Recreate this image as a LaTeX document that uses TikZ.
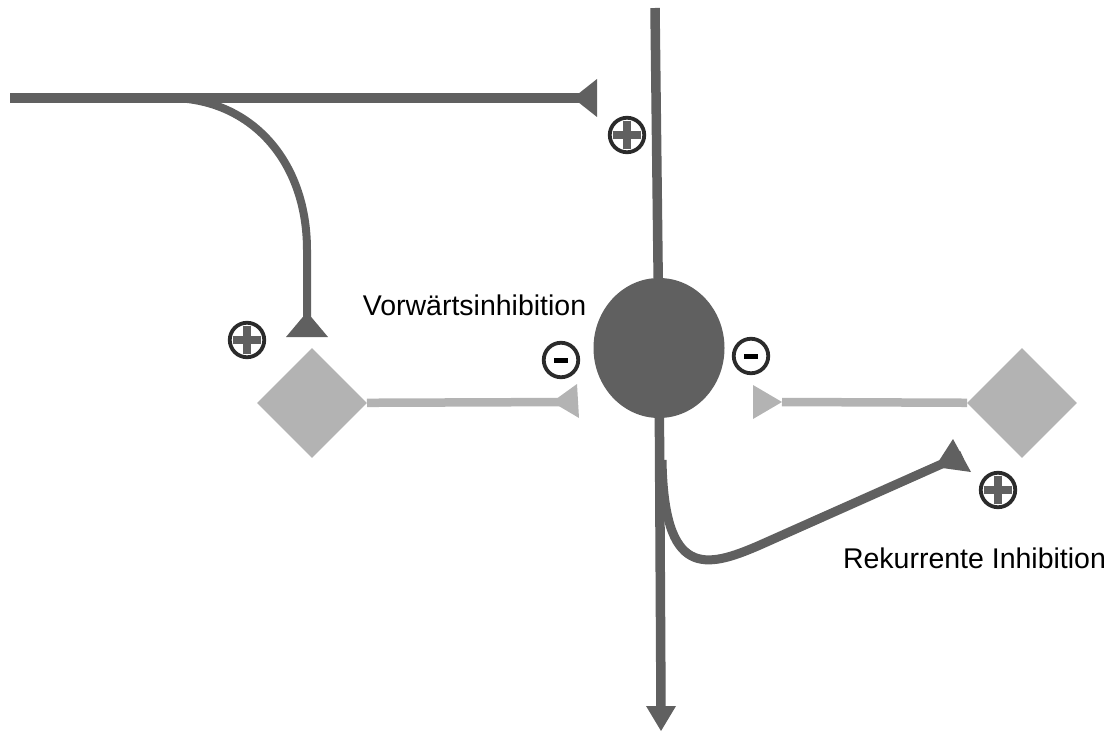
\documentclass[tikz,border=0pt]{standalone}
\usepackage{fontspec}
\setmainfont{Liberation Sans}
\usetikzlibrary{shapes.geometric}
\definecolor{dk}{HTML}{606060}
\definecolor{lt}{HTML}{B3B3B3}
\definecolor{ring}{HTML}{2B2B2B}
\tikzset{
  dkline/.style={draw=dk},
  ltline/.style={draw=lt, line width=8.5pt},
  term/.style={fill=dk},
  lterm/.style={fill=lt},
  sgn/.style={circle, draw=ring, line width=3.8pt, minimum size=34.5pt, inner sep=0pt},
  plussign/.style={sgn, path picture={
      \fill[dk] ([xshift=-14pt,yshift=-4pt]path picture bounding box.center) rectangle ([xshift=14pt,yshift=4pt]path picture bounding box.center);
      \fill[dk] ([xshift=-4pt,yshift=-14pt]path picture bounding box.center) rectangle ([xshift=4pt,yshift=14pt]path picture bounding box.center);}},
  minussign/.style={sgn, path picture={
      \fill[black] ([xshift=-7pt,yshift=-2.5pt]path picture bounding box.center) rectangle ([xshift=7pt,yshift=2.5pt]path picture bounding box.center);}},
  dia/.style={diamond, fill=lt, minimum size=110pt, inner sep=0pt},
  lbl/.style={font=\fontsize{28.5}{32}\selectfont, anchor=base, inner sep=0pt}
}
\begin{document}
\begin{tikzpicture}[x=1pt,y=-1pt]
\useasboundingbox (0,0) rectangle (1120,733);
% neuron and diamonds
\node[ellipse, fill=dk, minimum width=131pt, minimum height=140pt, inner sep=0pt] (neuron) at (659,348) {};
\node[dia] (dL) at (312,403) {};
\node[dia] (dR) at (1022,403) {};
% coordinates
\coordinate (hstart) at (10,98);
\coordinate (t1) at (597,98);
\coordinate (vtop) at (655,8);
\coordinate (vbot) at (661,708);
\coordinate (br) at (662,460);
\coordinate (t4) at (962,455);
\coordinate (cl) at (170,98);
\coordinate (t2) at (307,334);
\coordinate (t3) at (577,402);
\coordinate (t5) at (782,402);
% top horizontal input
\draw[dkline, line width=10pt] (hstart) -- (t1);
\fill[term] (573,98) -- (597,79) -- (597,117) -- cycle;
% vertical axon
\draw[dkline, line width=9.5pt] (vtop) -- (neuron);
\draw[dkline, line width=9.5pt] (neuron) -- (vbot);
\fill[term] (646,706) -- (676,706) -- (661,731) -- cycle;
% branch to left interneuron
\draw[dkline, line width=8pt] (cl) .. controls (250,98) and (307,160) .. (307,250) -- (t2);
\fill[term] (307,312) -- (286,337) -- (328,337) -- cycle;
% recurrent branch
\draw[dkline, line width=9pt] (br) .. controls (664,578) and (705,569) .. (760,545) -- (t4);
\fill[term] (935,467) -- (953,439) -- (971,472) -- cycle;
% inhibitory interneuron axons
\draw[ltline] (dL) -- (t3);
\fill[lterm] (552,402) -- (577,384) -- (579,418) -- cycle;
\draw[ltline] (dR) -- (t5);
\fill[lterm] (782,402) -- (753,385) -- (753,419) -- cycle;
% signs
\node[plussign] (p1) at (627,135) {};
\node[plussign] (p2) at (247,340) {};
\node[plussign] (p3) at (998,490) {};
\node[minussign] (m1) at (561,360) {};
\node[minussign] (m2) at (751,356) {};
% labels
\node[lbl] (l1) at (474.5,315) {Vorwärtsinhibition};
\node[lbl] (l2) at (974.5,568) {Rekurrente Inhibition};
\end{tikzpicture}
\end{document}
